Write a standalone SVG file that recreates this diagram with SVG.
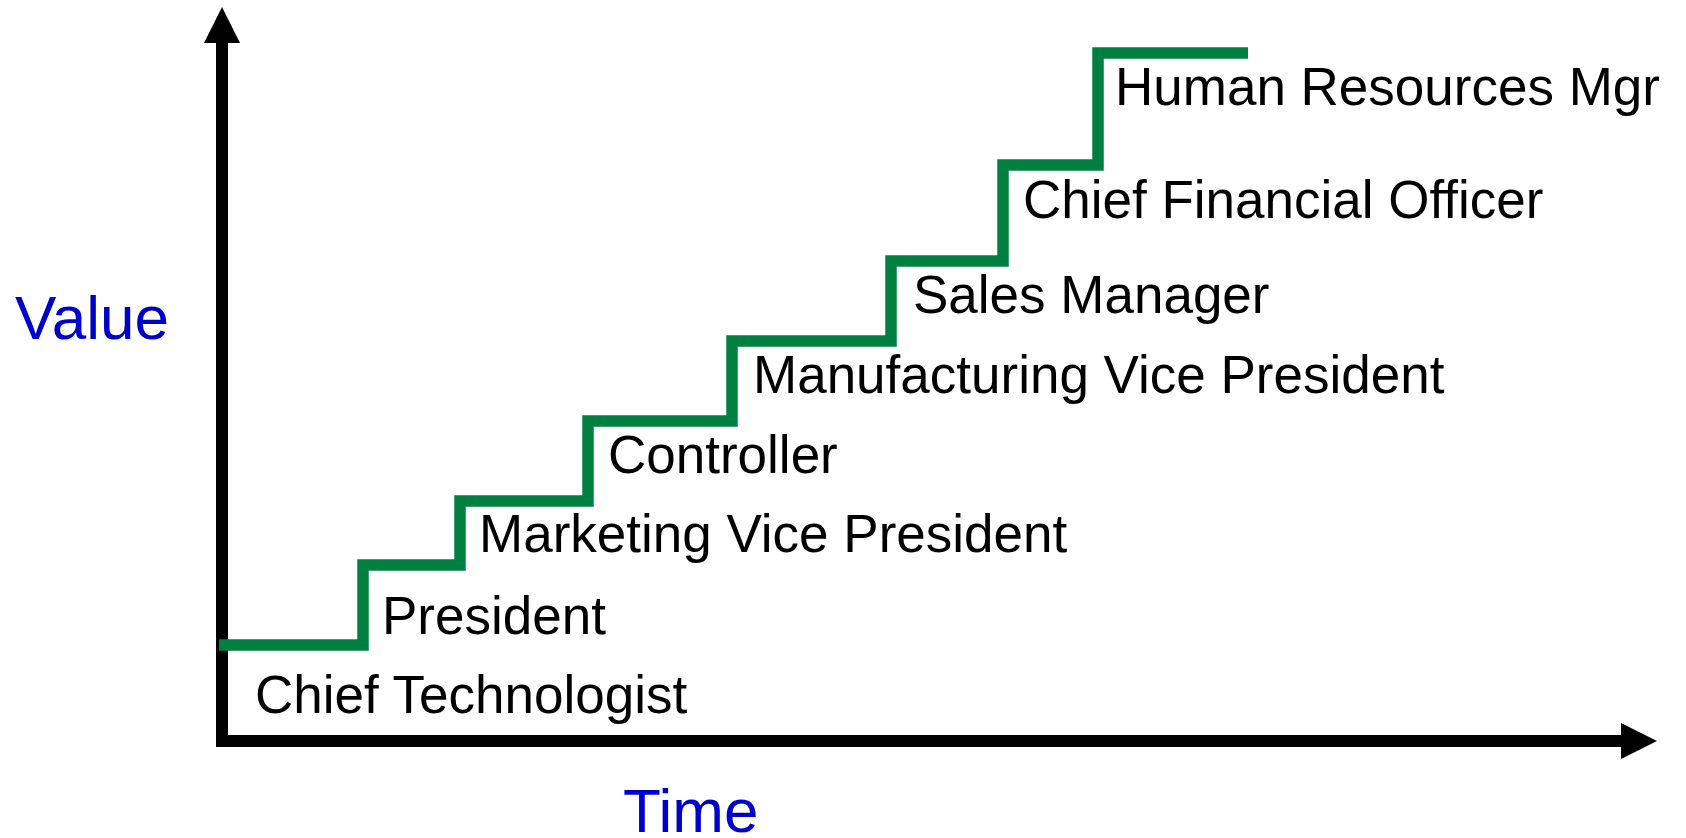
<svg xmlns="http://www.w3.org/2000/svg" width="1686" height="838" viewBox="0 0 1686 838">
<style>
.lbl{font-family:"Liberation Sans",Arial,sans-serif;font-size:53px;fill:#000}
.ax{font-family:"Liberation Sans",Arial,sans-serif;font-size:62px;fill:#0000CC}
.axis{stroke:#000;stroke-width:12;fill:none}
.step{stroke:#008040;stroke-width:11.5;fill:none;stroke-linejoin:miter;stroke-linecap:butt}
</style>
<rect width="1686" height="838" fill="#fff"/>
<g id="connectors">
<path class="axis" d="M222,43 V741 H1621"/>
<polygon points="204,43 222,7 240,43" fill="#000"/>
<polygon points="1621,723 1657,741 1621,759" fill="#000"/>
<path class="step" d="M219,645 H363 V565 H460 V501 H588 V421 H732 V341 H891 V261 H1003 V165 H1098 V53 H1248"/>
</g>
<g id="axis-value"><text class="ax" x="15" y="339">Value</text></g>
<g id="axis-time"><text class="ax" x="623" y="832">Time</text></g>
<g id="chief-technologist"><text class="lbl" x="255" y="713">Chief Technologist</text></g>
<g id="president"><text class="lbl" x="382" y="634">President</text></g>
<g id="marketing-vp"><text class="lbl" x="479" y="552">Marketing Vice President</text></g>
<g id="controller"><text class="lbl" x="608" y="473">Controller</text></g>
<g id="manufacturing-vp"><text class="lbl" x="753" y="393">Manufacturing Vice President</text></g>
<g id="sales-manager"><text class="lbl" x="913" y="313">Sales Manager</text></g>
<g id="cfo"><text class="lbl" x="1023" y="218">Chief Financial Officer</text></g>
<g id="hr-mgr"><text class="lbl" x="1115" y="105">Human Resources Mgr</text></g>
</svg>
